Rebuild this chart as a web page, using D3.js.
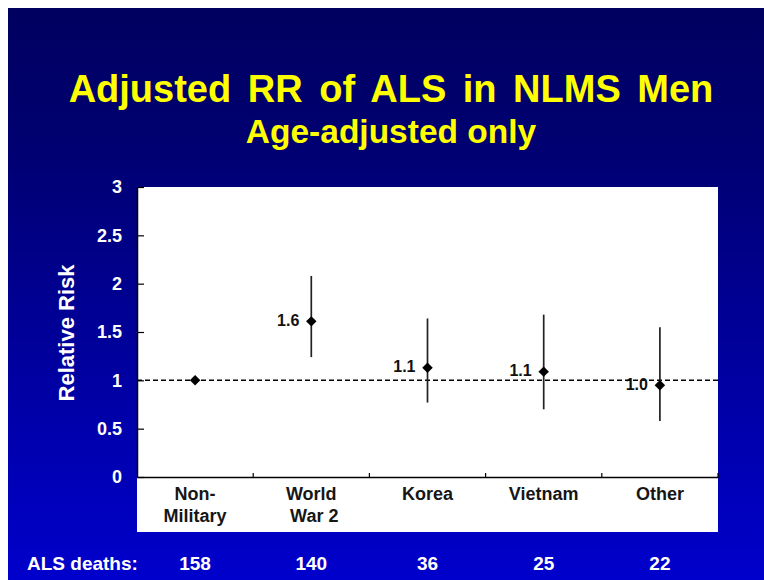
<!DOCTYPE html>
<html>
<head>
<meta charset="utf-8">
<script src="https://cdn.jsdelivr.net/npm/d3@7"></script>
<style>
    body { margin: 0; background: #fff; }
    svg { display: block; font-family: Arial, "Liberation Sans", sans-serif; }
</style>
</head>
<body>
<script>

var groups = ["Non-Military", "World War 2", "Korea", "Vietnam", "Other"];
var groupLines = [["Non-", "Military"], ["World", "War 2"], ["Korea"], ["Vietnam"], ["Other"]];
var rr = [1.0, 1.61, 1.13, 1.09, 0.95];
var ciLow = [null, 1.24, 0.77, 0.70, 0.58];
var ciHigh = [null, 2.08, 1.64, 1.68, 1.55];
var rrLabels = ["", "1.6", "1.1", "1.1", "1.0"];
var deaths = [158, 140, 36, 25, 22];
var yTicks = [0, 0.5, 1, 1.5, 2, 2.5, 3];

var w = 764;
var h = 580;

var svg = d3.select("body").append("svg")
    .attr("width", w)
    .attr("height", h);

// slide background
var grad = svg.append("defs").append("linearGradient")
    .attr("id", "bg")
    .attr("x1", 0).attr("y1", 0)
    .attr("x2", 0).attr("y2", 1);
grad.append("stop").attr("offset", "0%").attr("stop-color", "#000060");
grad.append("stop").attr("offset", "25%").attr("stop-color", "#000072");
grad.append("stop").attr("offset", "100%").attr("stop-color", "#0000cc");

svg.append("rect")
    .attr("x", 8).attr("y", 8)
    .attr("width", w - 8).attr("height", h - 8)
    .attr("fill", "url(#bg)");

// titles
svg.append("text")
    .attr("x", 391).attr("y", 102)
    .attr("text-anchor", "middle")
    .attr("font-size", 38).attr("font-weight", "bold")
    .attr("word-spacing", 6)
    .attr("fill", "#ffff00")
    .text("Adjusted RR of ALS in NLMS Men");

svg.append("text")
    .attr("x", 391).attr("y", 143)
    .attr("text-anchor", "middle")
    .attr("font-size", 33.5).attr("font-weight", "bold")
    .attr("fill", "#ffff00")
    .text("Age-adjusted only");

var pLeft = 137, pRight = 718, pTop = 187, pBottom = 477;

var x = d3.scaleBand()
    .domain(groups)
    .range([pLeft, pRight]);

var y = d3.scaleLinear()
    .domain([0, 3])
    .range([pBottom, pTop]);

// white plot box incl. the label strip
svg.append("rect")
    .attr("x", pLeft).attr("y", pTop)
    .attr("width", pRight - pLeft).attr("height", 532 - pTop)
    .attr("fill", "#fff");

// y axis
var yAxis = d3.axisLeft(y)
    .tickValues(yTicks)
    .tickFormat(d3.format("~g"))
    .tickSizeInner(-7)
    .tickSizeOuter(0)
    .tickPadding(15);

var gy = svg.append("g")
    .attr("transform", "translate(" + pLeft + ",0)")
    .call(yAxis);
gy.select(".domain").attr("stroke", "#000").attr("stroke-width", 1.5);
gy.selectAll(".tick line").attr("stroke", "#000").attr("stroke-width", 1.2);
gy.selectAll(".tick text")
    .attr("fill", "#fff")
    .attr("font-size", 18).attr("font-weight", "bold")
    .attr("font-family", "Arial, 'Liberation Sans', sans-serif");

// x axis line + boundary ticks
var xAxis = d3.axisBottom(x).tickSize(0).tickFormat("");
var gx = svg.append("g")
    .attr("transform", "translate(0," + pBottom + ")")
    .call(xAxis);
gx.select(".domain").attr("stroke", "#000").attr("stroke-width", 1.5);

var edges = groups.map(function (d) { return x(d) + x.bandwidth(); });
gx.selectAll(".edge")
    .data(edges)
    .enter().append("line")
    .attr("class", "edge")
    .attr("x1", function (d) { return d; })
    .attr("x2", function (d) { return d; })
    .attr("y1", 0).attr("y2", -4)
    .attr("stroke", "#000").attr("stroke-width", 1.2);

// category labels
svg.selectAll(".cat")
    .data(groups)
    .enter().append("text")
    .attr("class", "cat")
    .attr("text-anchor", "middle")
    .attr("font-size", 18).attr("font-weight", "bold")
    .attr("fill", "#161616")
    .each(function (d, i) {
        var t = d3.select(this);
        groupLines[i].forEach(function (line, j) {
            t.append("tspan")
                .attr("x", x(d) + x.bandwidth() / 2 + (i == 1 && j == 1 ? 3 : 0))
                .attr("y", 500 + j * 22)
                .text(line);
        });
    });

// reference line at RR = 1
svg.append("line")
    .attr("x1", pLeft).attr("x2", pRight)
    .attr("y1", y(1)).attr("y2", y(1))
    .attr("stroke", "#000").attr("stroke-width", 1.5)
    .attr("stroke-dasharray", "5,3");

var cx = function (d) { return x(d) + x.bandwidth() / 2; };

// confidence intervals
svg.selectAll(".ci")
    .data(groups.filter(function (d, i) { return ciLow[i] != null; }))
    .enter().append("line")
    .attr("class", "ci")
    .attr("x1", cx).attr("x2", cx)
    .attr("y1", function (d) { return y(ciLow[groups.indexOf(d)]); })
    .attr("y2", function (d) { return y(ciHigh[groups.indexOf(d)]); })
    .attr("stroke", "#222").attr("stroke-width", 1.7);

// diamonds
svg.selectAll(".pt")
    .data(groups)
    .enter().append("path")
    .attr("class", "pt")
    .attr("d", d3.symbol().type(d3.symbolDiamond2).size(70))
    .attr("transform", function (d, i) {
        return "translate(" + cx(d) + "," + y(rr[i]) + ")";
    })
    .attr("fill", "#000");

// value labels
svg.selectAll(".val")
    .data(groups)
    .enter().append("text")
    .attr("class", "val")
    .attr("x", function (d) { return cx(d) - 12; })
    .attr("y", function (d, i) { return y(rr[i]) - 1; })
    .attr("dy", "0.35em")
    .attr("text-anchor", "end")
    .attr("font-size", 16).attr("font-weight", "bold")
    .attr("fill", "#111")
    .text(function (d, i) { return rrLabels[i]; });

// y title
svg.append("text")
    .attr("transform", "translate(74,333) rotate(-90)")
    .attr("text-anchor", "middle")
    .attr("font-size", 22).attr("font-weight", "bold")
    .attr("fill", "#fff")
    .text("Relative Risk");

// deaths row
svg.append("text")
    .attr("x", 27).attr("y", 570)
    .attr("font-size", 19).attr("font-weight", "bold")
    .attr("fill", "#fff")
    .text("ALS deaths:");

svg.selectAll(".n")
    .data(groups)
    .enter().append("text")
    .attr("class", "n")
    .attr("x", cx).attr("y", 570)
    .attr("text-anchor", "middle")
    .attr("font-size", 19).attr("font-weight", "bold")
    .attr("fill", "#fff")
    .text(function (d, i) { return deaths[i]; });

</script>
</body>
</html>
